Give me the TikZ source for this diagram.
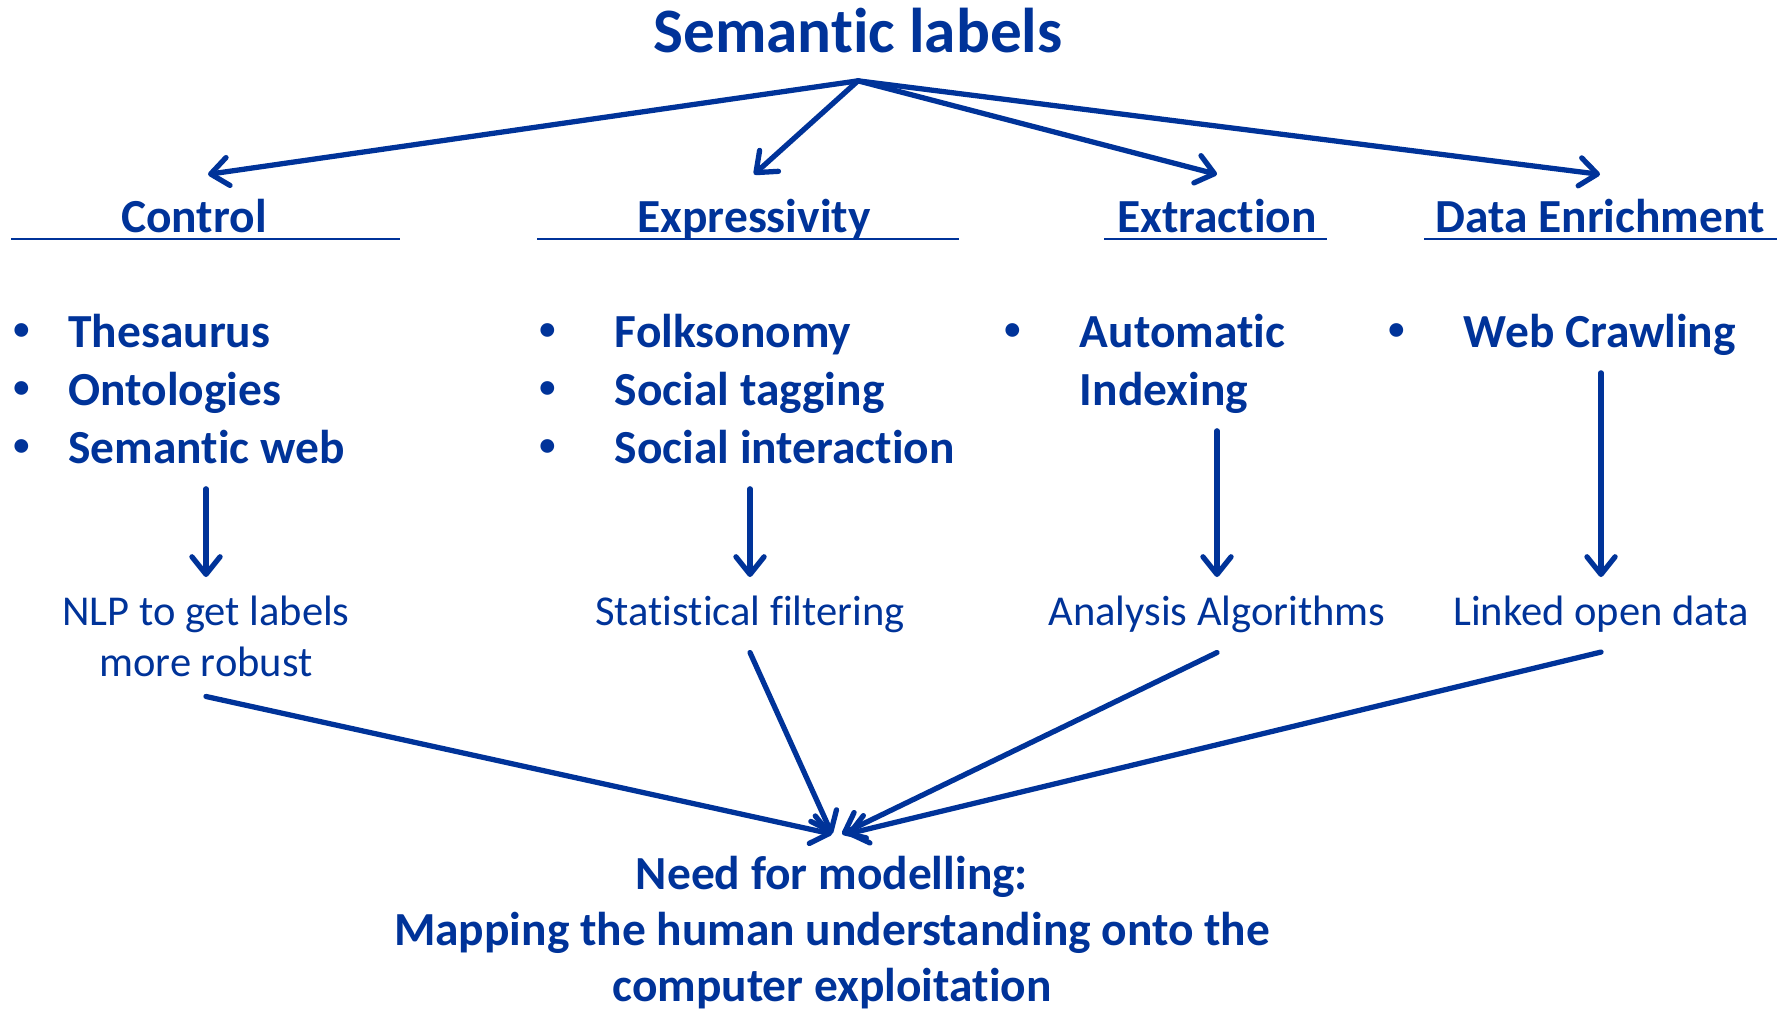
\documentclass[tikz,border=0pt]{standalone}
\usepackage{fontspec}
\setmainfont[Ligatures=NoCommon]{Carlito}
\usepackage{tikz}
\usetikzlibrary{arrows.meta}
\definecolor{navy}{RGB}{0,51,153}
\newcommand\blist[2]{\begin{tabular}[t]{@{}p{#1}@{}l@{}}#2\end{tabular}}
\newcommand\bul{\hspace*{1.3pt}\raisebox{2.1pt}{\fontsize{9.2}{9.2}\selectfont\textbullet}}

\begin{document}
\begin{tikzpicture}[x=0.1mm,y=-0.1mm,navy,
  arr/.style={-{Straight Barb[length=5pt,width=8pt,round]},line width=1.5pt,line cap=round},
  head/.style={font=\fontsize{13.5}{16.5}\selectfont\bfseries,anchor=base,inner sep=0pt,outer ysep=7.4pt,text height=9pt,text depth=0pt},
  items/.style={font=\fontsize{13.5}{16.5}\selectfont\bfseries,anchor=base west,inner xsep=0pt,inner ysep=2.2pt},
  sub/.style={font=\fontsize{12.1}{14.5}\selectfont,anchor=north,align=center,inner ysep=5.3pt}]
\useasboundingbox (0,0) rectangle (1783,1011);
\node[font=\fontsize{18}{22}\selectfont\bfseries,anchor=base,inner ysep=8pt,text depth=0pt] (title) at (858,52) {Semantic labels};
\node[head] (hctl) at (194,232) {Control};
\node[head] (hexp) at (754,232) {Expressivity};
\node[head] (hext) at (1217,232) {Extraction};
\node[head] (hdat) at (1600,232) {Data Enrichment};
\draw[line width=0.7pt] (11,239) -- (400,239) (537,239) -- (959,239) (1104,239) -- (1327,239) (1424,239) -- (1777,239);
\draw[arr] (title.south) -- ([xshift=1.4mm]hctl.north);
\draw[arr] (title.south) -- (hexp.north);
\draw[arr] (title.south) -- (hext.north);
\draw[arr] (title.south) -- (hdat.north);
\node[items] (lctl) at (8,347) {\blist{17pt}{\bul & Thesaurus\\ \bul & Ontologies\\ \bul & Semantic web}};
\node[items] (lexp) at (534,347) {\blist{22.8pt}{\bul & Folksonomy\\ \bul & Social tagging\\ \bul & Social interaction}};
\node[items] (lext) at (999,347) {\blist{22.8pt}{\bul & Automatic\\ & Indexing}};
\node[items] (ldat) at (1383,347) {\blist{22.8pt}{\bul & Web Crawling}};
\node[sub] (nlp) at (206,577) {NLP to get labels\\more robust};
\node[sub] (stat) at (750,577) {Statistical filtering};
\node[sub] (ana) at (1217,577) {Analysis Algorithms};
\node[sub] (lod) at (1601,577) {Linked open data};
\draw[arr] (lctl.south -| nlp.north) -- (nlp.north);
\draw[arr] (lexp.south -| stat.north) -- (stat.north);
\draw[arr] (lext.south -| ana.north) -- (ana.north);
\draw[arr] (ldat.south -| lod.north) -- (lod.north);
\node[font=\fontsize{13.5}{16}\selectfont\bfseries,align=center,anchor=north,inner ysep=6pt] (need) at (832,834) {Need for modelling:\\Mapping the human understanding onto the\\computer exploitation};
\draw[arr] (nlp.south) -- (need.north);
\draw[arr] (stat.south) -- (need.north);
\draw[arr] (ana.south) -- ([xshift=1mm]need.north);
\draw[arr] (lod.south) -- ([xshift=1.5mm]need.north);
\end{tikzpicture}
\end{document}
